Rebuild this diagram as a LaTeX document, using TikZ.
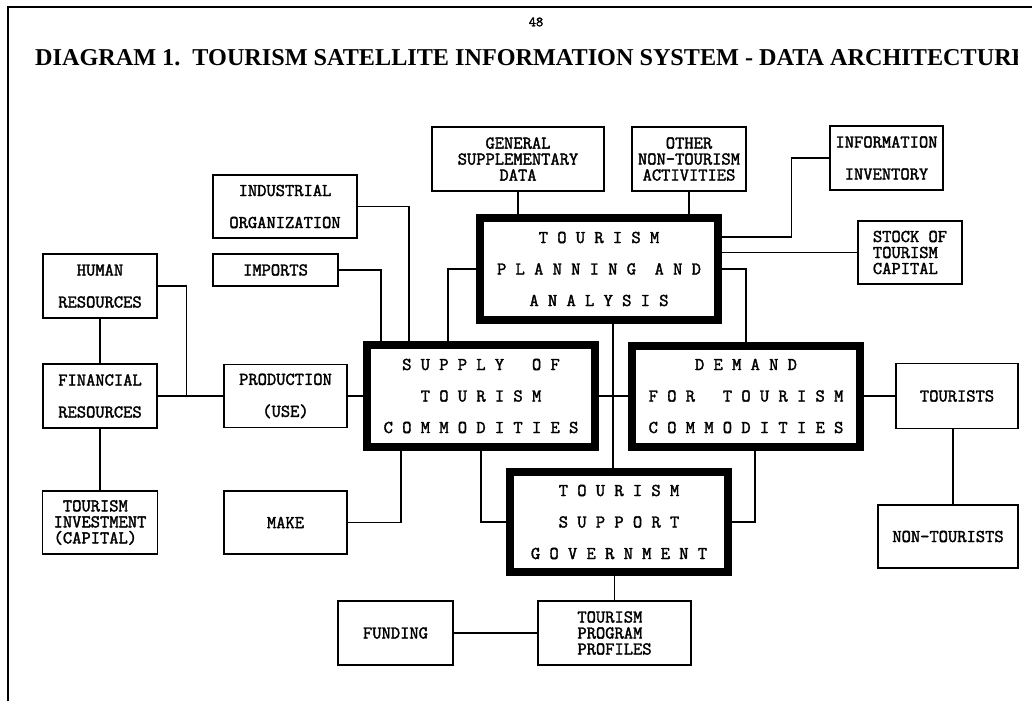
\documentclass[tikz,border=0pt]{standalone}
\usepackage{fontspec}
\newfontfamily\titlefont{Liberation Serif}
\newfontfamily\boxfont{Latin Modern Mono}[FakeBold=2]
\usepackage{tikz}

\begin{document}
\begin{tikzpicture}[x=1pt,y=-1pt,
	thin/.style={draw=black,line width=1.4pt,align=center,font=\boxfont\fontsize{18}{32}\selectfont},
	tight/.style={font=\boxfont\fontsize{18}{16}\selectfont},
	heavy/.style={draw=black,line width=8pt,align=center,font=\boxfont\fontsize{18}{31.5}\selectfont},
	conn/.style={draw=black,line width=1.4pt}]
	\tikzstyle{every node}+=[inner sep=0pt]
	\useasboundingbox (0,0) rectangle (1032,701);
	\draw [black,line width=2.5pt] (8,701) -- (8,7) -- (1032,7);
	\node [font=\boxfont\fontsize{14}{14}\selectfont] (page) at (536,22) {48};
	\begin{scope}
	\clip (0,0) rectangle (1017,701);
	\node [anchor=base west,font=\titlefont\fontsize{24.2}{28}\selectfont\bfseries] (title) at (35,65) {DIAGRAM 1.\ \ TOURISM SATELLITE INFORMATION SYSTEM - DATA ARCHITECTURE};
	\end{scope}
	\node [heavy,minimum width=238pt,minimum height=102pt] (plan) at (599,269) {T O U R I S M\\P L A N N I N G~~A N D\\A N A L Y S I S};
	\node [heavy,minimum width=228pt,minimum height=102pt] (supply) at (481,396) {S U P P L Y~~~O F\\T O U R I S M\\C O M M O D I T I E S};
	\node [heavy,minimum width=228pt,minimum height=101pt] (demand) at (746,396) {D E M A N D\\F O R~~~T O U R I S M\\C O M M O D I T I E S};
	\node [heavy,minimum width=218pt,minimum height=100pt] (support) at (619,522) {T O U R I S M\\S U P P O R T\\G O V E R N M E N T};
	\node [thin,minimum width=144pt,minimum height=63pt] (ind) at (285,206.5) {INDUSTRIAL\\ORGANIZATION};
	\node [thin,minimum width=125pt,minimum height=32pt] (imp) at (275.5,270) {IMPORTS};
	\node [thin,tight,minimum width=172pt,minimum height=64pt] (gen) at (518,159) {GENERAL\\SUPPLEMENTARY\\DATA};
	\node [thin,tight,minimum width=114pt,minimum height=64pt] (oth) at (689,159) {OTHER\\NON-TOURISM\\ACTIVITIES};
	\node [thin,minimum width=113pt,minimum height=64pt] (info) at (886.5,158) {INFORMATION\\INVENTORY};
	\node [thin,tight,align=left,minimum width=104pt,minimum height=63pt] (stock) at (910,252.5) {STOCK OF\\TOURISM\\CAPITAL};
	\node [thin,minimum width=114pt,minimum height=64pt] (hum) at (100,286) {HUMAN\\RESOURCES};
	\node [thin,minimum width=114pt,minimum height=64pt] (fin) at (100,396) {FINANCIAL\\RESOURCES};
	\node [thin,tight,align=left,minimum width=115pt,minimum height=63pt] (inv) at (100,522.5) {~TOURISM\\INVESTMENT\\(CAPITAL)};
	\node [thin,minimum width=123pt,minimum height=63pt] (prod) at (285.5,396) {PRODUCTION\\(USE)};
	\node [thin,minimum width=123pt,minimum height=63pt] (make) at (285.5,522.5) {MAKE};
	\node [thin,minimum width=122pt,minimum height=65pt] (tour) at (957,396) {TOURISTS};
	\node [thin,minimum width=140pt,minimum height=63pt] (non) at (948,536.5) {NON-TOURISTS};
	\node [thin,tight,align=left,minimum width=153pt,minimum height=64pt] (prof) at (614.5,633) {TOURISM\\PROGRAM\\PROFILES};
	\node [thin,minimum width=115pt,minimum height=64pt] (fund) at (395.5,633) {FUNDING};
	\draw [conn] (ind.east) -| ([xshift=46pt]supply.north west);
	\draw [conn] (imp.east) -| ([xshift=18pt]supply.north west);
	\draw [conn] (plan.west) -| ([xshift=85pt]supply.north west);
	\draw [conn] (gen.south) -- (gen.south |- plan.north);
	\draw [conn] (oth.south) -- (oth.south |- plan.north);
	\draw [conn] ([yshift=32pt]plan.east) -| ([xshift=-38pt]info.west) -- (info.west);
	\draw [conn] (stock.west) -- (stock.west -| plan.east);
	\draw [conn] (plan.east) -| (demand.north);
	\draw [conn] (hum.east) -| ([xshift=29pt]fin.east);
	\draw [conn] (hum.south) -- (fin.north);
	\draw [conn] (fin.south) -- (inv.north);
	\draw [conn] (fin.east) -- (prod.west);
	\draw [conn] (prod.east) -- (supply.west);
	\draw [conn] (make.east) -| ([xshift=38pt]supply.south west);
	\draw [conn] (supply.south) |- (support.west);
	\draw [conn] (supply.east) -- (demand.west);
	\draw [conn] ([xshift=14pt]plan.south) -- ([xshift=14pt]plan.south |- support.north);
	\draw [conn] ([xshift=9pt]demand.south) |- (support.east);
	\draw [conn] (demand.east) -- (tour.west);
	\draw [conn] ([xshift=-4pt]tour.south) -- ([xshift=-4pt]tour.south |- non.north);
	\draw [conn] (support.south -| prof.north) -- (prof.north);
	\draw [conn] (fund.east) -- (prof.west);
\end{tikzpicture}
\end{document}
